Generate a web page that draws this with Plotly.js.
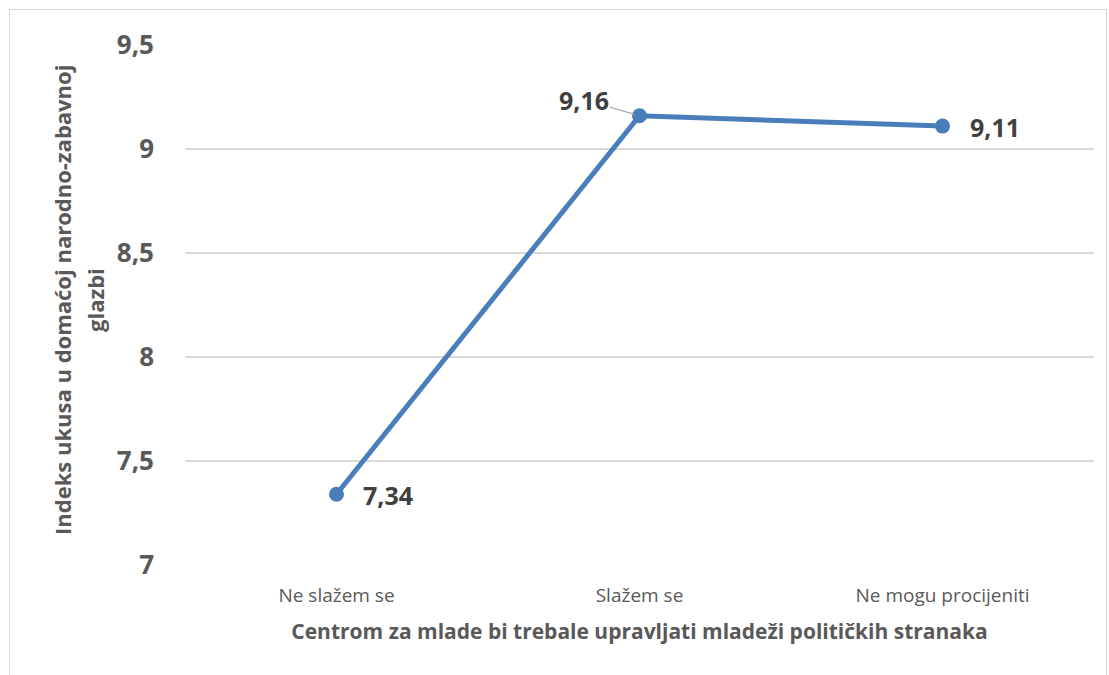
<!DOCTYPE html>
<html>
<head>
<meta charset="utf-8">
<script src="https://cdn.plot.ly/plotly-3.0.1.min.js"></script>
<style>
html,body{margin:0;padding:0;background:#fff;}
#frame{position:absolute;left:9px;top:9px;width:1098px;height:670px;border:1px solid #d9d9d9;box-sizing:border-box;}
#chart{position:absolute;left:0;top:0;width:1109px;height:675px;}
</style>
</head>
<body>
<div id="frame"></div>
<div id="chart"></div>
<script>
const categories = ["Ne slažem se", "Slažem se", "Ne mogu procijeniti"];
const values = [7.34, 9.16, 9.11];
const yTickVals = [7, 7.5, 8, 8.5, 9, 9.5];
const xTitle = "Centrom za mlade bi trebale upravljati mladeži političkih stranaka";
const yTitleLines = ["Indeks ukusa u domaćoj narodno-zabavnoj", "glazbi"];

const FONT = "'Open Sans', 'Liberation Sans', sans-serif";
const fmt = v => v.toFixed(2).replace('.', ',');

// label placement offsets (pixels) per point
const labelOffsets = [
  {ax: 51, ay: 1, arrow: false},
  {ax: -56, ay: -16, arrow: true},
  {ax: 52, ay: 1, arrow: false}
];

const annotations = values.map((v, i) => {
  const o = labelOffsets[i];
  return {
    x: categories[i], y: v, xref: 'x', yref: 'y',
    text: '<b>' + fmt(v) + '</b>',
    showarrow: true,
    arrowhead: 0, arrowwidth: 1.2,
    arrowcolor: o.arrow ? '#a6a6a6' : 'rgba(0,0,0,0)',
    ax: o.ax, ay: o.ay, standoff: 5,
    font: {family: FONT, size: 25, color: '#404040'}
  };
});

// y-axis title, two lines
const yTitleX = [62, 95];
yTitleLines.forEach((t, i) => {
  annotations.push({
    xref: 'paper', yref: 'paper',
    x: (yTitleX[i] - 185) / 909, y: (565 - 300) / 520,
    xanchor: 'center', yanchor: 'middle',
    text: '<b>' + t + '</b>', textangle: -90, showarrow: false,
    font: {family: FONT, size: 22, color: '#595959'}
  });
});

const trace = {
  x: categories, y: values, type: 'scatter', mode: 'lines+markers',
  line: {color: '#4a7ebb', width: 5},
  marker: {color: '#4a7ebb', size: 15},
  hoverinfo: 'skip'
};

const layout = {
  width: 1109, height: 675,
  margin: {l: 185, r: 15, t: 45, b: 110},
  paper_bgcolor: 'rgba(0,0,0,0)', plot_bgcolor: 'rgba(0,0,0,0)',
  separators: ',.',
  showlegend: false,
  font: {family: FONT, color: '#595959'},
  xaxis: {
    type: 'category',
    showgrid: false, zeroline: false, showline: false,
    ticks: '', ticklen: 0, ticklabelstandoff: 17,
    tickfont: {family: FONT, size: 19, color: '#595959'},
    title: {text: '<b>' + xTitle + '</b>', font: {family: FONT, size: 21, color: '#595959'}, standoff: 17},
    range: [-0.5, 2.5]
  },
  yaxis: {
    range: [7, 9.5],
    tickvals: yTickVals,
    ticktext: yTickVals.map(v => '<b>' + String(v).replace('.', ',') + '</b>'),
    showgrid: true, gridcolor: '#d9d9d9', gridwidth: 1.3,
    zeroline: false, showline: false,
    ticks: '', ticklabelstandoff: 30,
    tickfont: {family: FONT, size: 26, color: '#595959'}
  },
  annotations: annotations
};

Plotly.newPlot('chart', [trace], layout, {displayModeBar: false, staticPlot: true});
</script>
</body>
</html>
